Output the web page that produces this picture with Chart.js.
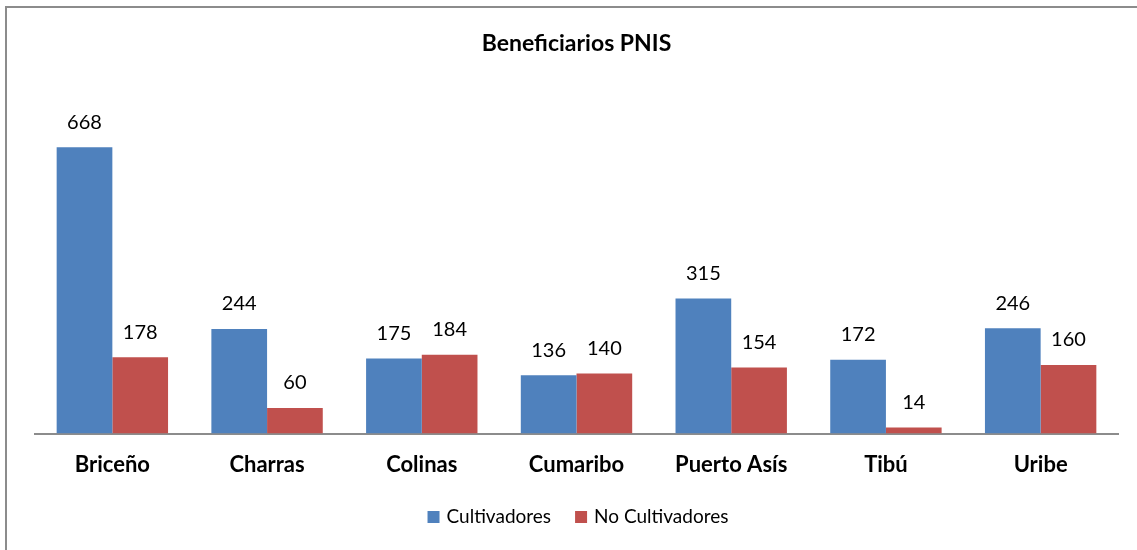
<!DOCTYPE html>
<html>
<head>
<meta charset="utf-8">
<script src="https://cdn.jsdelivr.net/npm/chart.js@4"></script>
<style>
  html, body { margin: 0; padding: 0; background: #fff; }
  #wrap { width: 1137px; height: 550px; position: relative; }
</style>
</head>
<body>
<div id="wrap"><canvas id="chart" width="1137" height="550"></canvas></div>
<script>
const categories = ['Briceño', 'Charras', 'Colinas', 'Cumaribo', 'Puerto Asís', 'Tibú', 'Uribe'];
const cultivadores = [668, 244, 175, 136, 315, 172, 246];
const noCultivadores = [178, 60, 184, 140, 154, 14, 160];
const seriesNames = ['Cultivadores', 'No Cultivadores'];
const seriesColors = ['#4F81BD', '#C0504D'];

const FONT = 'Lato, "Liberation Sans", sans-serif';

// frame around the whole chart
const framePlugin = {
    id: 'frame',
    beforeDraw(chart) {
        const { ctx } = chart;
        ctx.save();
        ctx.strokeStyle = '#8c8c8c';
        ctx.lineWidth = 2;
        ctx.strokeRect(6, 7, 1150, 560);
        ctx.restore();
    },
};

// value labels above every bar
const valueLabels = {
    id: 'valueLabels',
    afterDatasetsDraw(chart) {
        const { ctx } = chart;
        ctx.save();
        ctx.font = '20px ' + FONT;
        ctx.fillStyle = '#000';
        ctx.textAlign = 'center';
        ctx.textBaseline = 'middle';
        chart.data.datasets.forEach((ds, i) => {
            chart.getDatasetMeta(i).data.forEach((bar, j) => {
                ctx.fillText(String(ds.data[j]), bar.x, bar.y - 25);
            });
        });
        ctx.restore();
    },
};

// legend drawn below the axis, Excel style
const bottomLegend = {
    id: 'bottomLegend',
    afterDraw(chart) {
        const { ctx } = chart;
        const box = 12, gap = 7, itemGap = 24, cy = 517;
        ctx.save();
        ctx.font = '19px ' + FONT;
        ctx.textBaseline = 'middle';
        const items = chart.data.datasets.map((ds) => ({
            text: ds.label,
            color: ds.backgroundColor,
            w: box + gap + ctx.measureText(ds.label).width,
        }));
        const total = items.reduce((s, it) => s + it.w, 0) + itemGap * (items.length - 1);
        let x = 578 - total / 2;
        items.forEach((it) => {
            ctx.fillStyle = it.color;
            ctx.fillRect(x, cy - box / 2, box, box);
            ctx.fillStyle = '#000';
            ctx.fillText(it.text, x + box + gap, cy);
            x += it.w + itemGap;
        });
        ctx.restore();
    },
};

new Chart(document.getElementById('chart'), {
    type: 'bar',
    data: {
        labels: categories,
        datasets: [
            { label: seriesNames[0], data: cultivadores, backgroundColor: seriesColors[0] },
            { label: seriesNames[1], data: noCultivadores, backgroundColor: seriesColors[1] },
        ],
    },
    options: {
        responsive: false,
        animation: false,
        layout: { padding: { left: 35, right: 19, top: 0, bottom: 54 } },
        datasets: {
            bar: { barPercentage: 1, categoryPercentage: 0.72 },
        },
        scales: {
            x: {
                grid: { display: false, drawTicks: false },
                border: { display: true, color: '#8c8c8c', width: 2 },
                ticks: {
                    color: '#000',
                    padding: 18,
                    font: { family: FONT, size: 22, weight: 'bold' },
                },
            },
            y: {
                display: false,
                min: 0,
                max: 800,
            },
        },
        plugins: {
            title: {
                display: true,
                text: 'Beneficiarios PNIS',
                color: '#000',
                font: { family: FONT, size: 23, weight: 'bold' },
                padding: { top: 30, bottom: 33 },
            },
            legend: { display: false },
            tooltip: { enabled: false },
        },
    },
    plugins: [framePlugin, valueLabels, bottomLegend],
});
</script>
</body>
</html>
